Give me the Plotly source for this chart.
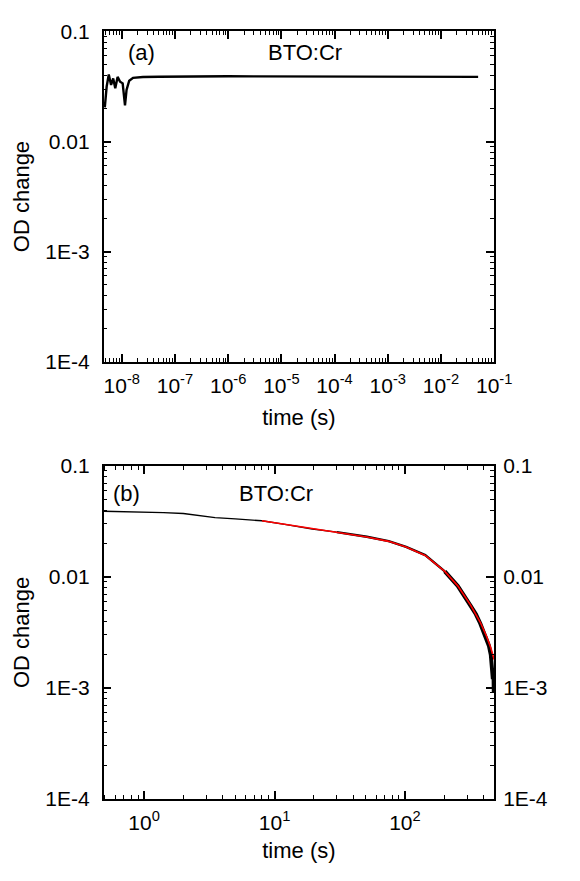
import plotly.graph_objects as go

# ---------------- data ----------------
# panel (a): fast time scale
time_a = [4.8e-9, 5.2e-9, 5.7e-9, 6.3e-9, 6.9e-9, 7.55e-9, 8.35e-9, 9.3e-9, 1.04e-8,
          1.15e-8, 1.23e-8, 1.38e-8, 1.63e-8, 2.5e-8, 5e-8, 1e-7, 3e-7, 1e-6, 3e-6,
          1e-5, 3e-5, 1e-4, 3e-4, 1e-3, 3e-3, 1e-2, 3e-2, 5e-2]
od_a = [0.0204, 0.0316, 0.0407, 0.0327, 0.0375, 0.0305, 0.0387, 0.0350, 0.0338,
        0.0213, 0.0295, 0.0357, 0.0379, 0.0386, 0.0388, 0.0390, 0.0391, 0.0392, 0.0391,
        0.0390, 0.0390, 0.0389, 0.0389, 0.0388, 0.0388, 0.0387, 0.0387, 0.0387]

# panel (b): slow time scale (measured data)
time_b = [0.49, 0.7, 1.0, 1.41, 2.0, 3.5, 5.0, 8.0, 12.0, 19.5, 30.0, 51.0, 75.0, 102.0,
          143.0, 202.0, 254.0, 318.0, 350.0, 378.0, 400.0, 423.0, 440.0, 455.0, 465.0,
          472.0, 477.0, 480.0, 483.0]
od_b = [0.0390, 0.0387, 0.0383, 0.0379, 0.0372, 0.0342, 0.0333, 0.0320, 0.0297, 0.0270,
        0.0253, 0.0230, 0.0210, 0.0186, 0.0157, 0.0112, 0.0083, 0.0055, 0.0046, 0.0038,
        0.0032, 0.0028, 0.0024, 0.0020, 0.0016, 0.0012, 0.0015, 0.0009, 0.0013]

# panel (b): fit curve (red)
time_fit = [8.0, 12.0, 19.5, 30.0, 51.0, 75.0, 102.0, 143.0, 202.0, 254.0, 318.0, 378.0,
            423.0, 455.0, 483.0]
od_fit = [0.0320, 0.0298, 0.0271, 0.0253, 0.0229, 0.0209, 0.0186, 0.0156, 0.0112, 0.0083,
          0.0056, 0.0039, 0.0029, 0.0023, 0.0018]

y_tickvals = [1e-4, 1e-3, 1e-2, 1e-1]
y_ticktext = ["1E-4", "1E-3", "0.01", "0.1"]
xa_tickvals = [1e-8, 1e-7, 1e-6, 1e-5, 1e-4, 1e-3, 1e-2, 1e-1]
xa_ticktext = ["10<sup>-8</sup>", "10<sup>-7</sup>", "10<sup>-6</sup>", "10<sup>-5</sup>",
               "10<sup>-4</sup>", "10<sup>-3</sup>", "10<sup>-2</sup>", "10<sup>-1</sup>"]
xb_tickvals = [1, 10, 100]
xb_ticktext = ["10<sup>0</sup>", "10<sup>1</sup>", "10<sup>2</sup>"]

# ---------------- figure ----------------
W, H = 580, 881
FONT = "Arial, Liberation Sans, sans-serif"
fig = go.Figure()

fig.add_trace(go.Scatter(x=time_a, y=od_a, mode="lines", xaxis="x", yaxis="y",
                         line=dict(color="black", width=2.4), showlegend=False))
# measured data of panel (b): noise band widens with time
for i0, i1, w in [(0, 10, 1.4), (10, 15, 2.4), (15, len(time_b) - 1, 4)]:
    fig.add_trace(go.Scatter(x=time_b[i0:i1 + 1], y=od_b[i0:i1 + 1], mode="lines",
                             xaxis="x2", yaxis="y2", line=dict(color="black", width=w),
                             showlegend=False))
fig.add_trace(go.Scatter(x=time_fit, y=od_fit, mode="lines", xaxis="x2", yaxis="y2",
                         line=dict(color="red", width=1.6), showlegend=False))
# invisible trace to activate right-hand axis of panel (b)
fig.add_trace(go.Scatter(x=time_fit, y=od_fit, mode="lines", xaxis="x2", yaxis="y3",
                         line=dict(color="rgba(0,0,0,0)", width=0), hoverinfo="skip",
                         showlegend=False))

xd = [107 / W, 510 / W]
yd_a = [1 - 359 / H, 1 - 20 / H]
yd_b = [1 - 808 / H, 1 - 466 / H]

TICKF = dict(family=FONT, size=21, color="black")
TITLEF = dict(family=FONT, size=22, color="black")

common = dict(type="log", showgrid=False, zeroline=False, showline=True,
              linecolor="black", linewidth=1.5, ticks="inside", ticklen=8,
              tickwidth=1.5, tickcolor="black", tickfont=TICKF,
              minor=dict(ticks="inside", ticklen=4, tickwidth=1.2, tickcolor="black",
                         dtick="D1", showgrid=False))

fig.update_layout(
    width=W, height=H, margin=dict(l=0, r=0, t=0, b=0),
    paper_bgcolor="white", plot_bgcolor="white",
    xaxis=dict(common, domain=xd, anchor="y", range=[-8.34, -0.9995],
               tickvals=xa_tickvals, ticktext=xa_ticktext, mirror="ticks",
               ticklabelstandoff=4,
               title=dict(text="time (s)", font=TITLEF, standoff=14)),
    yaxis=dict(common, domain=yd_a, anchor="x", range=[-4.0005, -0.9995],
               tickvals=y_tickvals, ticktext=y_ticktext, mirror="ticks",
               ticklabelstandoff=8,
               title=dict(text="OD change", font=TITLEF, standoff=10)),
    xaxis2=dict(common, domain=xd, anchor="y2", range=[-0.31, 2.684],
                tickvals=xb_tickvals, ticktext=xb_ticktext, mirror="ticks",
                ticklabelstandoff=4,
                title=dict(text="time (s)", font=TITLEF, standoff=10)),
    yaxis2=dict(common, domain=yd_b, anchor="x2", range=[-4.0005, -0.9995],
                tickvals=y_tickvals, ticktext=y_ticktext, mirror="ticks",
                ticklabelstandoff=8,
                title=dict(text="OD change", font=TITLEF, standoff=10)),
    yaxis3=dict(common, domain=yd_b, anchor="x2", overlaying="y2", side="right",
                range=[-4.0005, -0.9995], tickvals=y_tickvals, ticktext=y_ticktext,
                showline=False, ticklabelstandoff=8),
)

ann_font = dict(family=FONT, size=22, color="black")
for txt, px, py in [("(a)", 146, 42), ("BTO:Cr", 315, 42), ("(b)", 131, 494), ("BTO:Cr", 285, 494)]:
    fig.add_annotation(text=txt, xref="paper", yref="paper", x=px / W, y=1 - py / H,
                       xanchor="center", yanchor="middle", showarrow=False, font=ann_font)

fig.write_html("out.html", config={"displayModeBar": False},
               post_script="document.body.style.margin='0';")
